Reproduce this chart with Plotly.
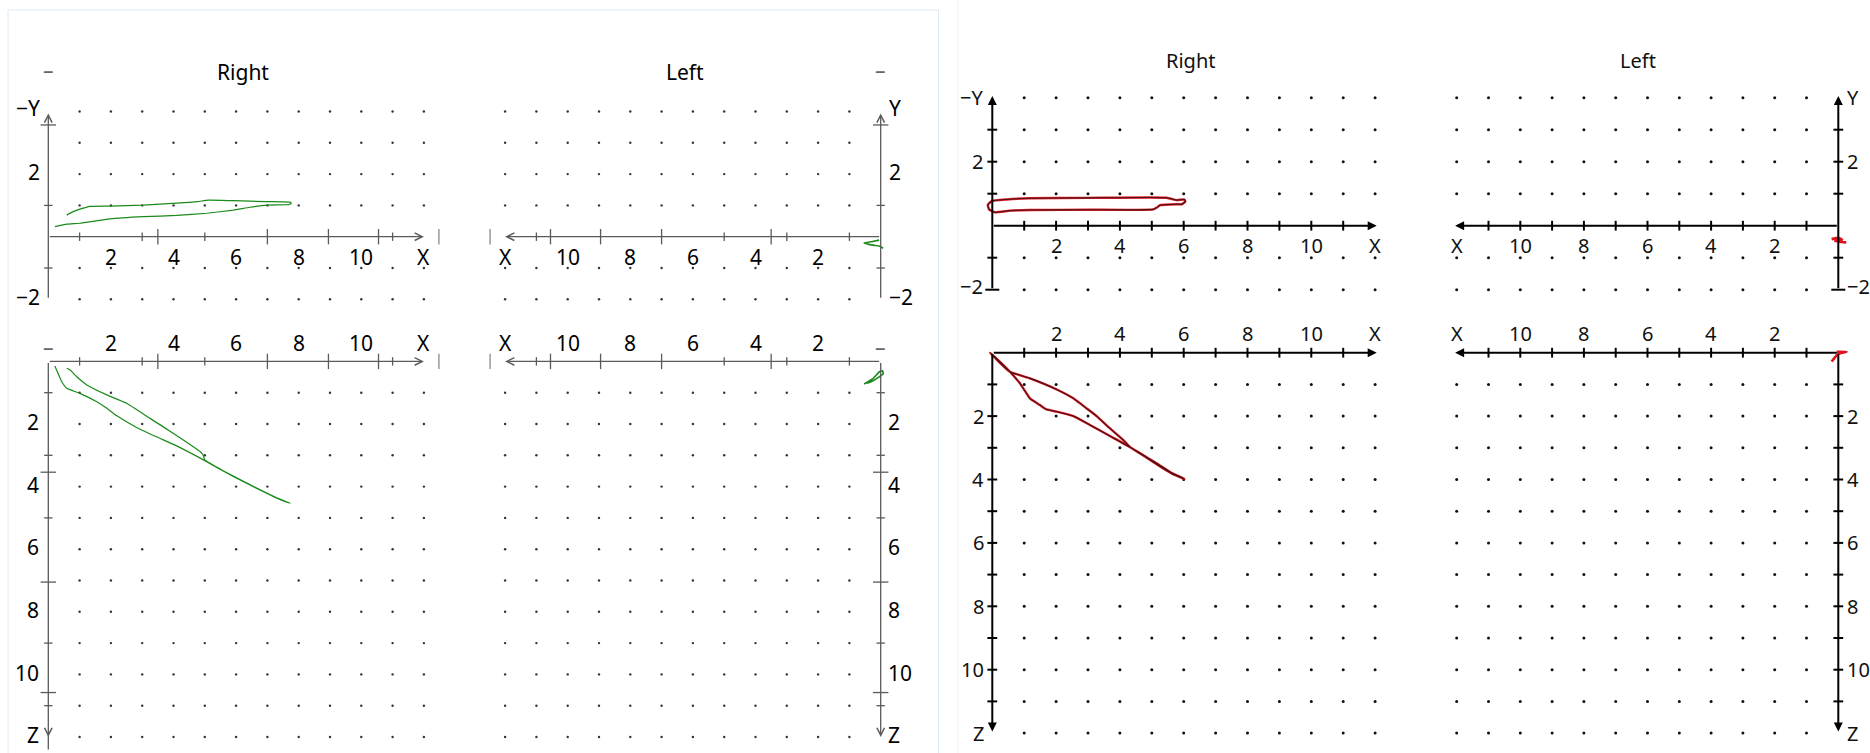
"""
Two side-by-side screenshots of the same 2-D projection view
(Right / Left, XY on top and XZ below): green trace on the left,
dark red trace on the right.
"""

import plotly.graph_objects as go

W, H = 1870, 753

# ─────────────────────────────────────────────────────────────────────────────
# DATA
# ─────────────────────────────────────────────────────────────────────────────

GRID_COLS = [1, 2, 3, 4, 5, 6, 7, 8, 9, 10, 11, 12]
GRID_ROWS_XY = [-2, -1, 1, 2, 3, 4]
GRID_ROWS_XZ = [1, 2, 3, 4, 5, 6, 7, 8, 9, 10, 11, 12]

X_LABEL_POS = [2, 4, 6, 8, 10, 12]
X_LABELS = ["2", "4", "6", "8", "10", "X"]
Z_LABEL_POS = [2, 4, 6, 8, 10, 12]
Z_LABELS = ["2", "4", "6", "8", "10", "Z"]
Y_LABEL_POS_L = [4.1, 2.06, -1.93]
Y_LABEL_POS_R = [4.02, 2.0, -1.9]
Y_LABELS_RIGHTVIEW = ["−Y", "2", "−2"]
Y_LABELS_LEFTVIEW = ["Y", "2", "−2"]

# left screenshot: irregular tick marks
L_XTICK_SHORT = [1, 3, 5, 11]
L_XTICK_LONG = [3.5, 7, 8.95, 10.55]
L_XEND = [12.48]
L_YTICK_SHORT = [1, -1]
L_YTICK_LONG = [3.57]
L_ZTICK_SHORT = [1, 3, 5, 9, 11]
L_ZTICK_LONG = [3.54, 7.05, 10.58]

# right screenshot: regular tick marks
R_XTICKS = [1, 2, 3, 4, 5, 6, 7, 8, 9, 10, 11]
R_YTICKS = [-1, 1, 2, 3]
R_YCAP = [-2]
R_ZTICKS = [1, 2, 3, 4, 5, 6, 7, 8, 9, 10, 11]

# green trace (left screenshot)
G_RIGHT_XY_X = [0.21, 0.59, 1.01, 1.97, 3.04, 4.10, 5.06, 5.91, 6.44, 6.98, 7.70, 7.76,
                7.74, 6.98, 5.91, 5.11, 4.77, 4.10, 3.04, 1.97, 1.33, 1.01, 0.80, 0.59]
G_RIGHT_XY_Y = [0.32, 0.40, 0.43, 0.57, 0.64, 0.68, 0.75, 0.85, 0.94, 1.01, 1.03, 1.07,
                1.10, 1.12, 1.15, 1.17, 1.12, 1.07, 1.01, 0.98, 0.97, 0.88, 0.80, 0.69]
G_RIGHT_XZ_X = [0.21, 0.43, 0.59, 1.01, 1.55, 1.87, 2.19, 2.82, 3.46, 4.10, 5.00, 5.91,
                6.76, 7.30, 7.72, 7.30, 6.50, 5.60, 5.00, 4.95, 4.85, 4.00, 3.25, 2.50,
                1.87, 1.23, 0.91, 0.69, 0.59]
G_RIGHT_XZ_Z = [0.15, 0.65, 0.86, 1.02, 1.29, 1.50, 1.74, 2.11, 2.41, 2.70, 3.17, 3.68,
                4.11, 4.37, 4.53, 4.36, 3.97, 3.50, 3.15, 3.00, 2.88, 2.30, 1.82, 1.34,
                1.07, 0.75, 0.49, 0.27, 0.22]
G_LEFT_XY_X = [0.05, 0.30, 0.53, 0.25, 0.05, -0.08]
G_LEFT_XY_Y = [-0.11, -0.16, -0.20, -0.27, -0.30, -0.37]
G_LEFT_XZ_X = [0.53, 0.24, 0.04, -0.06, -0.08, 0.24, 0.45]
G_LEFT_XZ_Z = [0.72, 0.54, 0.33, 0.30, 0.40, 0.62, 0.70]

# red trace (right screenshot)
R_RIGHT_XY_X = [-0.02, 0.45, 1.18, 3.00, 5.46, 5.78, 6.02, 6.05, 5.94, 5.78, 5.26, 5.16,
                5.05, 3.00, 1.18, 0.55, 0.08, -0.10, -0.14, -0.02]
R_RIGHT_XY_Y = [0.77, 0.82, 0.86, 0.87, 0.875, 0.80, 0.82, 0.75, 0.67, 0.67, 0.64, 0.57,
                0.51, 0.50, 0.49, 0.47, 0.42, 0.51, 0.65, 0.77]
R_RIGHT_XZ_X = [-0.07, 0.20, 0.55, 0.87, 1.18, 1.49, 1.70, 2.02, 2.54, 3.06, 3.69, 4.32,
                4.85, 5.36, 5.70, 6.02, 5.60, 5.20, 4.60, 4.32, 4.11, 3.69, 3.27, 2.96,
                2.54, 2.02, 1.18, 0.55, 0.20, -0.07]
R_RIGHT_XZ_Z = [0.00, 0.25, 0.60, 0.97, 1.44, 1.65, 1.79, 1.86, 2.00, 2.28, 2.63, 2.98,
                3.32, 3.65, 3.85, 3.98, 3.78, 3.52, 3.15, 2.98, 2.76, 2.39, 2.00, 1.76,
                1.44, 1.16, 0.81, 0.60, 0.28, 0.00]
R_LEFT_XY_X = [0.21, 0.00, -0.12, 0.10, -0.25]
R_LEFT_XY_Y = [-0.42, -0.38, -0.44, -0.48, -0.52]
R_LEFT_XZ_X = [0.21, 0.05, -0.05, -0.26, 0.05]
R_LEFT_XZ_Z = [0.28, 0.08, 0.02, -0.03, -0.03]

# ─────────────────────────────────────────────────────────────────────────────
# PANELS (pixel origin, pixel per unit, direction, visible ranges)
# ─────────────────────────────────────────────────────────────────────────────

PANELS = {
    1: dict(ox=48.3, oy=236.7, ux=31.3, uy=31.3, sx=1, sy=1, xr=(-1, 13), yr=(-2.6, 5.6)),
    2: dict(ox=880.7, oy=236.7, ux=31.3, uy=31.3, sx=-1, sy=1, xr=(-1, 13), yr=(-2.6, 5.6)),
    3: dict(ox=48.3, oy=361.4, ux=31.3, uy=31.3, sx=1, sy=-1, xr=(-1, 13), yr=(-0.9, 12.4)),
    4: dict(ox=880.7, oy=361.4, ux=31.3, uy=31.3, sx=-1, sy=-1, xr=(-1, 13), yr=(-0.9, 12.4)),
    5: dict(ox=992.3, oy=225.7, ux=31.9, uy=32.0, sx=1, sy=1, xr=(-0.6, 12.8), yr=(-2.5, 5.3)),
    6: dict(ox=1838.3, oy=225.7, ux=31.8, uy=32.0, sx=-1, sy=1, xr=(-0.9, 12.6), yr=(-2.5, 5.3)),
    7: dict(ox=992.3, oy=352.7, ux=31.9, uy=31.7, sx=1, sy=-1, xr=(-0.6, 12.8), yr=(-0.9, 12.4)),
    8: dict(ox=1838.3, oy=352.7, ux=31.8, uy=31.7, sx=-1, sy=-1, xr=(-0.9, 12.6), yr=(-0.9, 12.4)),
}

FONT = "Noto Sans"
L_AXIS = "#5a5a5a"
R_AXIS = "#000000"
GREEN = "#1a8a1a"
LFS = 21   # label size, left screenshot
RFS = 20   # label size, right screenshot

fig = go.Figure()
annotations = []


def refs(i):
    return ("x" if i == 1 else f"x{i}"), ("y" if i == 1 else f"y{i}")


for i, p in PANELS.items():
    xa = [p["ox"] + p["sx"] * p["ux"] * v for v in p["xr"]]
    ya = [p["oy"] - p["sy"] * p["uy"] * v for v in p["yr"]]
    xdom = [min(xa) / W, max(xa) / W]
    ydom = [1 - max(ya) / H, 1 - min(ya) / H]
    xrng = list(p["xr"]) if p["sx"] > 0 else list(p["xr"])[::-1]
    yrng = list(p["yr"]) if p["sy"] > 0 else list(p["yr"])[::-1]
    xs, ys = refs(i)
    sfx = "" if i == 1 else str(i)
    fig.update_layout(**{
        f"xaxis{sfx}": dict(domain=xdom, range=xrng, visible=False, anchor=ys, fixedrange=True),
        f"yaxis{sfx}": dict(domain=ydom, range=yrng, visible=False, anchor=xs, fixedrange=True),
    })


def dots(i, rows, size, color):
    xs, ys = refs(i)
    px = [c for r in rows for c in GRID_COLS]
    py = [r for r in rows for c in GRID_COLS]
    fig.add_trace(go.Scatter(x=px, y=py, mode="markers", xaxis=xs, yaxis=ys,
                             marker=dict(size=size, color=color, line=dict(width=0)),
                             hoverinfo="skip", showlegend=False))


def ticks(i, pos, along, size, width, color):
    xs, ys = refs(i)
    if along == "x":
        x, y, sym = pos, [0] * len(pos), "line-ns"
    else:
        x, y, sym = [0] * len(pos), pos, "line-ew"
    fig.add_trace(go.Scatter(x=x, y=y, mode="markers", xaxis=xs, yaxis=ys, cliponaxis=False,
                             marker=dict(symbol=sym, size=size,
                                         line=dict(width=width, color=color)),
                             hoverinfo="skip", showlegend=False))


def curve(i, x, y, color, width):
    xs, ys = refs(i)
    fig.add_trace(go.Scatter(x=x, y=y, mode="lines", xaxis=xs, yaxis=ys,
                             line=dict(color=color, width=width, shape="spline", smoothing=0.4),
                             hoverinfo="skip", showlegend=False))


def arrow(i, head, tail, color, style, width, size):
    xs, ys = refs(i)
    annotations.append(dict(x=head[0], y=head[1], ax=tail[0], ay=tail[1],
                            xref=xs, yref=ys, axref=xs, ayref=ys, text="",
                            showarrow=True, arrowhead=style, arrowwidth=width,
                            arrowsize=size, arrowcolor=color, standoff=0, startstandoff=0))


def label(i, x, y, text, xanchor="center", size=LFS, color="#000"):
    xs, ys = refs(i)
    annotations.append(dict(x=x, y=y, xref=xs, yref=ys, text=text, showarrow=False,
                            xanchor=xanchor, yanchor="middle",
                            font=dict(family=FONT, size=size, color=color)))


# ── left screenshot (green) ───────────────────────────────────────────────────
for i in (1, 2, 3, 4):
    top = i in (1, 2)
    dots(i, GRID_ROWS_XY if top else GRID_ROWS_XZ, 2.4, "#333333")
    ticks(i, L_XTICK_SHORT, "x", 6, 1.3, L_AXIS)
    ticks(i, L_XTICK_LONG, "x", 11, 1.3, L_AXIS)
    ticks(i, L_XEND, "x", 11, 1.3, "#8a8a8a")
    if top:
        ticks(i, L_YTICK_SHORT, "y", 6, 1.3, L_AXIS)
        ticks(i, L_YTICK_LONG, "y", 11, 1.3, L_AXIS)
    else:
        ticks(i, L_ZTICK_SHORT, "y", 6, 1.3, L_AXIS)
        ticks(i, L_ZTICK_LONG, "y", 11, 1.3, L_AXIS)
    arrow(i, (12, 0), (0, 0), L_AXIS, 5, 1.3, 1.15)
    if top:
        arrow(i, (0, 3.94), (0, -2), L_AXIS, 5, 1.3, 1.15)
        label(i, 0, 5.33, "–", color="#666666")
    else:
        arrow(i, (0, 12.0), (0, 0), L_AXIS, 5, 1.3, 1.15)
        label(i, 0, -0.47, "–", color="#666666")

arrow(3, (0, 12.4), (0, 11.9), L_AXIS, 0, 1.3, 1)

curve(1, G_RIGHT_XY_X, G_RIGHT_XY_Y, GREEN, 1.2)
curve(3, G_RIGHT_XZ_X, G_RIGHT_XZ_Z, GREEN, 1.2)
curve(2, G_LEFT_XY_X, G_LEFT_XY_Y, GREEN, 1.6)
curve(4, G_LEFT_XZ_X, G_LEFT_XZ_Z, GREEN, 1.6)

for i in (1, 2):
    for v, t in zip(X_LABEL_POS, X_LABELS):
        label(i, v, -0.66, t)
for i in (3, 4):
    for v, t in zip(X_LABEL_POS, X_LABELS):
        label(i, v, -0.59, t)
for v, t in zip(Y_LABEL_POS_L, Y_LABELS_RIGHTVIEW):
    label(1, -0.19, v, t, xanchor="right")
for v, t in zip(Y_LABEL_POS_L, Y_LABELS_LEFTVIEW):
    label(2, -0.19, v, t, xanchor="left")
for v, t in zip(Z_LABEL_POS, Z_LABELS):
    label(3, -0.22, v - 0.06, t, xanchor="right")
    label(4, -0.18, v - 0.06, t, xanchor="left")
label(1, 6.22, 5.26, "Right")
label(2, 6.25, 5.26, "Left")

# ── right screenshot (red) ────────────────────────────────────────────────────
for i in (5, 6, 7, 8):
    top = i in (5, 6)
    dots(i, GRID_ROWS_XY if top else GRID_ROWS_XZ, 3, "#111111")
    ticks(i, R_XTICKS, "x", 7, 2, R_AXIS)
    if top:
        ticks(i, R_YTICKS, "y", 7, 2, R_AXIS)
        ticks(i, R_YCAP, "y", 10, 2, R_AXIS)
        arrow(i, (0, 4.05), (0, -2), R_AXIS, 2, 2, 0.9)
    else:
        ticks(i, R_ZTICKS, "y", 7, 2, R_AXIS)
        arrow(i, (0, 11.95), (0, 0), R_AXIS, 2, 2, 0.9)
    arrow(i, (12.05, 0), (0, 0), R_AXIS, 2, 2, 0.9)

for x, y, i in ((R_RIGHT_XY_X, R_RIGHT_XY_Y, 5), (R_RIGHT_XZ_X, R_RIGHT_XZ_Z, 7)):
    curve(i, x, y, "#e01c28", 2.4)
    curve(i, x, y, "#4a1212", 1.1)
curve(6, R_LEFT_XY_X, R_LEFT_XY_Y, "#e01020", 2.6)
curve(8, R_LEFT_XZ_X, R_LEFT_XZ_Z, "#e01020", 2.6)

for v, t in zip(X_LABEL_POS, X_LABELS):
    label(5, v, -0.63, t, size=RFS, color="#111")
    label(6, v, -0.63, t, size=RFS, color="#111")
    label(7, v, -0.61, t, size=RFS, color="#111")
    label(8, v, -0.61, t, size=RFS, color="#111")
for v, t in zip(Y_LABEL_POS_R, Y_LABELS_RIGHTVIEW):
    label(5, -0.23, v, t, xanchor="right", size=RFS, color="#111")
for v, t in zip(Y_LABEL_POS_R, Y_LABELS_LEFTVIEW):
    label(6, -0.21, v, t, xanchor="left", size=RFS, color="#111")
for v, t in zip(Z_LABEL_POS, Z_LABELS):
    label(7, -0.2, v, t, xanchor="right", size=RFS, color="#111")
    label(8, -0.21, v, t, xanchor="left", size=RFS, color="#111")
label(5, 6.2, 5.16, "Right", size=RFS, color="#111")
label(6, 6.29, 5.16, "Left", size=RFS, color="#111")

fig.update_layout(
    width=W, height=H,
    margin=dict(l=0, r=0, t=0, b=0),
    paper_bgcolor="white", plot_bgcolor="rgba(0,0,0,0)",
    annotations=annotations,
    shapes=[
        dict(type="rect", xref="paper", yref="paper",
             x0=8 / W, x1=938.5 / W, y0=-0.01, y1=1 - 10 / H,
             line=dict(color="#dcecf6", width=1), layer="below"),
        dict(type="line", xref="paper", yref="paper",
             x0=958 / W, x1=958 / W, y0=0, y1=1,
             line=dict(color="#f0f0f0", width=1), layer="below"),
    ],
)

# page body has a default margin; drop it so the figure sits at the corner
fig.write_html("out.html",
               config={"displayModeBar": False},
               post_script="document.body.style.margin='0';"
                           "document.body.style.overflow='hidden';")
